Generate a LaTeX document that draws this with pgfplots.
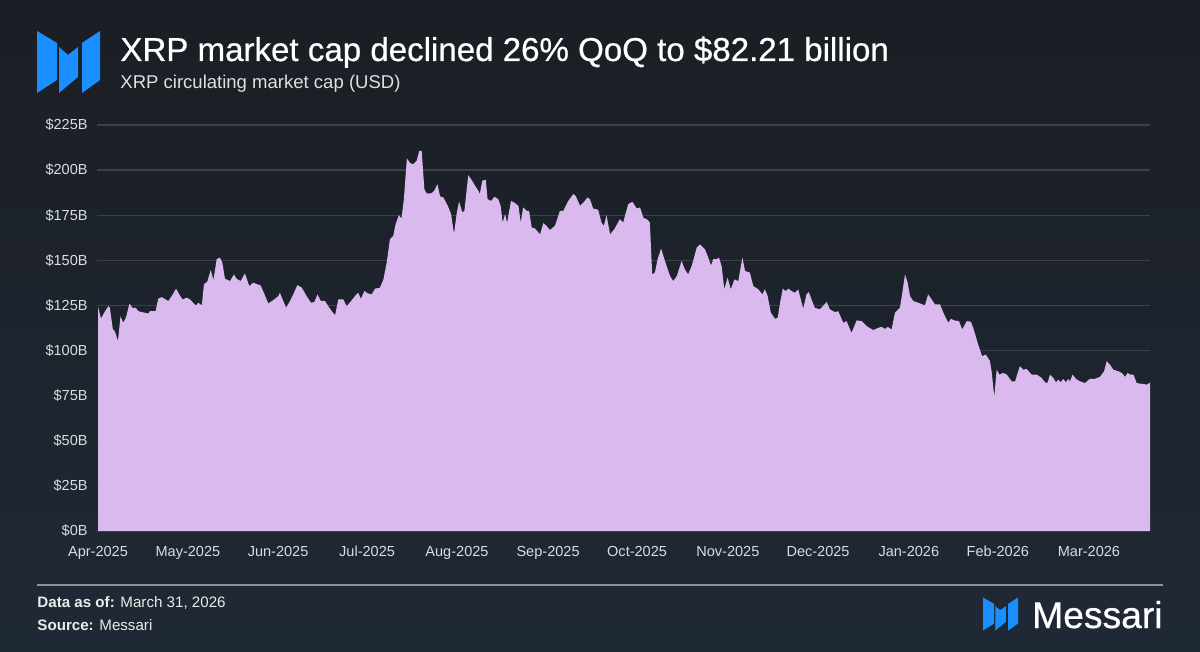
\documentclass[border=0pt]{standalone}
\usepackage{pgfplots}
\pgfplotsset{compat=1.18}
\usepackage{fontspec}
\setmainfont{Liberation Sans}
\newfontfamily\titlefont{Liberation Sans}[FakeBold=0.6]
\definecolor{bgtop}{HTML}{1B1E24}
\definecolor{bgbot}{HTML}{1F2935}
\definecolor{areac}{HTML}{D9B9EE}
\definecolor{gridc}{HTML}{3A414B}
\definecolor{mblue}{HTML}{1A8FFF}
\definecolor{ticktext}{HTML}{DADDE2}
\definecolor{sepc}{HTML}{8C929B}
\begin{document}
\begin{tikzpicture}[x=0.5bp,y=0.5bp]
\shade[top color=bgtop,bottom color=bgbot] (0,0) rectangle (1200,651);
\useasboundingbox (0,0) rectangle (1200,651);
% header logo
\begin{scope}[shift={(37,621)},yscale=-1]
 \fill[mblue] (0,1)--(20,13)--(20,50)--(0,63)--cycle;
 \fill[mblue] (22,17)--(31,25)--(41,17)--(41,47)--(22,63)--cycle;
 \fill[mblue] (45,13)--(63,1)--(63,50)--(45,63)--cycle;
\end{scope}
\node[anchor=base west,inner sep=0pt,text=white,font=\titlefont\fontsize{16.6}{20}\selectfont] at (120,590) {XRP market cap declined 26\% QoQ to \$82.21 billion};
\node[anchor=base west,inner sep=0pt,text=white!88!black,font=\fontsize{9.3}{11}\selectfont] at (120,562.5) {XRP circulating market cap (USD)};
\begin{axis}[at={(48.5bp,60bp)}, anchor=south west, scale only axis,
 width=526.5bp, height=203bp,
 xmin=-0.34, xmax=354.6, ymin=0, ymax=225,
 axis line style={draw=none}, major tick length=0pt,
 ytick={0,25,...,225},
 yticklabels={\$0B,\$25B,\$50B,\$75B,\$100B,\$125B,\$150B,\$175B,\$200B,\$225B},
 xtick={0,30.3,60.7,90.7,121.0,151.7,181.7,212.3,242.7,273.3,303.3,334.0},
 xticklabels={Apr-2025,May-2025,Jun-2025,Jul-2025,Aug-2025,Sep-2025,Oct-2025,Nov-2025,Dec-2025,Jan-2026,Feb-2026,Mar-2026},
 ymajorgrids, grid style={gridc, line width=0.6bp},
 tick label style={font=\fontsize{7.3}{9}\selectfont, text=ticktext, inner sep=0pt},
 yticklabel style={anchor=east}, xticklabel style={anchor=north},
 yticklabel shift=4.5bp, xticklabel shift=7.3bp]
\addplot[fill=areac, draw=none] coordinates {
(0.0,124.3)(1.0,117.8)(2.4,121.8)(3.5,124.6)(4.0,123.7)(5.0,111.7)(5.7,110.7)(6.7,105.2)(7.6,119.0)(8.5,115.4)
(9.4,118.2)(10.6,126.0)(11.6,123.7)(12.7,123.7)(13.6,121.8)(15.8,120.9)(17.0,120.6)(17.5,121.8)(19.4,121.8)(20.3,128.7)
(21.5,129.6)(23.7,127.4)(25.2,131.1)(26.3,134.3)(27.4,131.1)(28.5,128.3)(29.9,129.3)(31.0,128.3)(33.0,125.0)(33.8,126.5)
(35.0,125.0)(35.7,136.7)(36.8,138.1)(38.0,144.6)(38.9,139.1)(40.0,150.6)(41.1,151.5)(41.9,148.7)(42.8,139.8)(44.5,138.5)
(45.8,142.2)(46.7,139.8)(48.1,138.5)(49.5,142.8)(51.0,135.7)(52.3,137.6)(53.7,136.7)(54.8,136.1)(55.9,132.0)(57.4,126.1)
(59.1,128.0)(60.8,130.2)(61.3,132.0)(63.4,123.7)(64.7,127.4)(65.8,131.1)(67.2,136.3)(68.7,134.8)(70.3,130.2)(71.8,126.5)
(72.9,126.9)(74.0,131.1)(75.1,127.5)(76.5,127.5)(77.6,124.6)(78.8,121.8)(79.9,119.6)(81.0,128.3)(82.7,128.3)(83.8,124.6)
(85.3,127.4)(86.6,130.2)(87.7,132.0)(88.6,128.7)(89.8,133.0)(90.9,131.7)(92.2,131.1)(93.4,134.3)(95.0,134.8)(96.2,139.4)
(97.3,148.7)(98.4,161.7)(99.5,163.5)(100.3,170.0)(101.4,175.0)(102.3,173.2)(103.1,183.9)(104.1,206.5)(105.2,203.9)(106.3,203.3)
(107.4,205.2)(108.3,210.7)(109.1,210.6)(110.0,189.4)(110.8,187.0)(112.5,187.2)(113.3,188.5)(114.4,192.2)(115.3,185.4)(116.4,184.8)
(117.9,180.2)(119.0,175.6)(120.0,164.8)(120.9,176.0)(121.7,182.6)(122.8,176.5)(123.5,177.4)(124.8,197.2)(125.9,194.6)(127.1,191.3)
(128.2,188.5)(128.7,186.7)(129.5,194.1)(130.7,194.6)(131.3,183.9)(132.5,182.9)(133.6,185.2)(134.9,183.9)(135.7,180.2)(136.4,170.9)
(137.2,175.6)(137.9,170.9)(139.2,182.9)(140.3,182.0)(141.7,180.2)(142.5,170.9)(143.3,179.3)(144.5,177.4)(145.3,177.4)(146.2,168.2)
(147.3,167.6)(149.0,164.4)(150.1,170.6)(151.2,169.1)(152.3,166.8)(154.0,169.1)(155.7,177.4)(156.8,177.4)(158.5,182.9)(160.2,186.7)
(161.0,185.7)(162.5,180.2)(163.6,182.0)(165.0,184.8)(165.8,183.9)(166.9,178.7)(168.6,178.0)(169.7,170.9)(170.5,169.1)(171.4,175.0)
(172.6,164.4)(174.0,167.2)(175.9,172.8)(177.0,170.9)(178.7,181.1)(180.1,182.4)(181.6,178.7)(182.7,179.3)(183.8,173.7)(185.3,172.4)
(186.0,170.9)(186.8,142.2)(187.7,143.2)(188.6,150.6)(189.8,156.5)(191.1,149.6)(192.8,141.3)(193.9,138.5)(195.1,141.3)(196.7,149.6)
(197.8,145.0)(198.9,142.2)(200.1,146.8)(201.8,157.0)(202.9,158.9)(204.6,156.1)(205.7,151.5)(206.6,147.2)(207.4,150.6)(208.5,150.6)
(209.3,151.5)(210.2,146.8)(211.1,133.9)(212.2,140.4)(213.3,133.9)(214.5,139.4)(215.8,138.5)(217.2,151.5)(218.1,144.1)(219.7,143.2)
(220.9,135.7)(222.6,133.9)(223.9,131.1)(224.8,133.9)(225.7,130.2)(226.8,120.9)(228.2,117.6)(229.1,118.2)(229.9,126.5)(230.8,134.3)
(231.8,132.9)(232.7,134.3)(233.8,132.9)(234.9,132.0)(236.0,133.9)(237.7,123.2)(238.8,131.1)(239.6,132.4)(240.5,128.3)(241.6,123.7)
(243.3,122.8)(245.6,126.9)(246.7,122.8)(248.4,121.3)(249.5,121.8)(251.2,115.4)(252.3,116.3)(254.0,109.8)(255.7,116.7)(257.4,116.3)
(259.1,113.5)(261.3,111.3)(263.0,112.6)(264.1,113.1)(265.3,112.0)(266.2,113.1)(267.5,111.7)(268.6,120.9)(270.3,123.7)(271.1,132.0)
(272.0,142.2)(272.9,137.6)(273.7,130.2)(274.8,127.4)(276.5,126.5)(277.8,125.6)(278.7,125.0)(279.8,131.1)(281.0,128.3)(282.1,125.6)
(283.8,125.6)(285.2,120.0)(286.6,115.4)(287.5,117.6)(288.6,116.7)(290.2,116.3)(291.3,111.7)(292.8,116.3)(294.2,116.0)(295.0,112.6)
(296.5,104.3)(298.0,96.9)(299.2,97.8)(300.6,94.4)(301.2,88.5)(302.1,74.3)(302.9,89.4)(303.8,86.7)(305.1,87.6)(306.3,86.7)
(308.0,82.9)(309.1,82.9)(310.7,91.3)(311.9,89.4)(313.0,89.8)(314.7,86.7)(316.4,86.7)(318.1,84.8)(319.2,82.4)(320.0,82.0)
(320.9,86.7)(322.0,84.8)(322.9,82.4)(323.7,83.9)(324.5,82.4)(325.3,84.3)(326.3,82.4)(327.0,84.3)(327.6,82.9)(328.5,86.7)
(329.6,84.3)(331.0,82.9)(332.7,82.0)(334.3,84.3)(336.0,84.3)(337.7,85.4)(339.1,88.5)(340.0,94.1)(341.1,92.2)(342.2,89.4)
(343.9,88.5)(345.1,87.6)(346.2,85.4)(347.0,87.6)(347.9,86.7)(349.0,86.7)(350.1,82.0)(351.0,81.7)(352.3,81.5)(353.5,81.1)
(354.6,82.21)
} \closedcycle;
\end{axis}
% footer
\draw[sepc, line width=1bp] (37,66) -- (1163,66);
\node[anchor=base west,inner sep=0pt,text=white!92!black,font=\fontsize{7.6}{9}\selectfont] at (37,44) {\textbf{Data as of:} March 31, 2026};
\node[anchor=base west,inner sep=0pt,text=white!92!black,font=\fontsize{7.6}{9}\selectfont] at (37,21) {\textbf{Source:} Messari};
\begin{scope}[shift={(983,54)},xscale=0.556,yscale=-0.532]
 \fill[mblue] (0,1)--(20,13)--(20,50)--(0,63)--cycle;
 \fill[mblue] (22,17)--(31,25)--(41,17)--(41,47)--(22,63)--cycle;
 \fill[mblue] (45,13)--(63,1)--(63,50)--(45,63)--cycle;
\end{scope}
\node[anchor=base east,inner sep=0pt,text=white,font=\titlefont\fontsize{18.7}{22}\selectfont] at (1163,23) {Messari};
\end{tikzpicture}
\end{document}
